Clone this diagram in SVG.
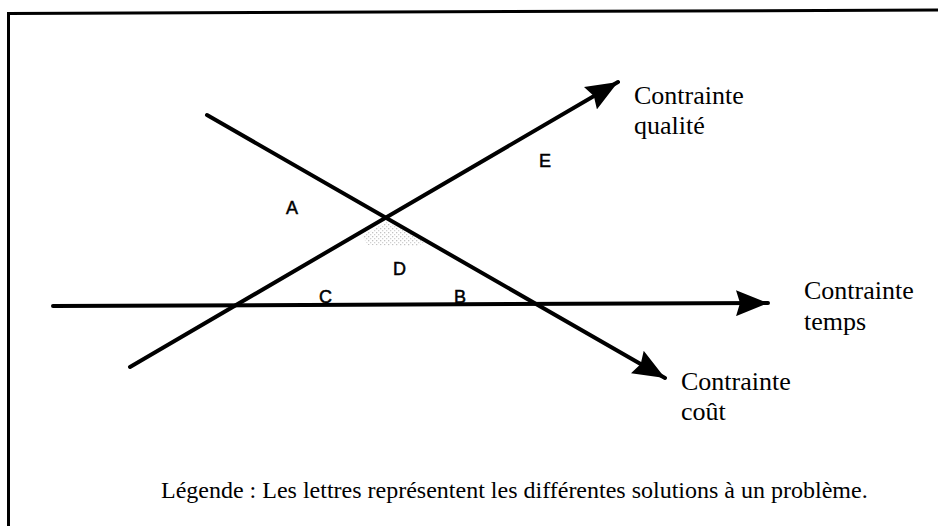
<svg xmlns="http://www.w3.org/2000/svg" width="938" height="526" viewBox="0 0 938 526">
  <style>
    .frame { fill: none; stroke: #000; stroke-width: 3; }
    .axis { fill: none; stroke: #000; stroke-width: 4; stroke-linecap: round; }
    .lbl { font-family: "Liberation Serif", "Times New Roman", serif; font-size: 26px; fill: #000; }
    .sol { font-family: "Liberation Sans", Arial, sans-serif; font-size: 18px; fill: #000; stroke: #000; stroke-width: 0.5; }
    .legend { font-family: "Liberation Serif", "Times New Roman", serif; font-size: 24px; fill: #000; }
  </style>
  <defs>
    <marker id="arrow" viewBox="0 0 32 26" refX="32" refY="13" markerWidth="32" markerHeight="26" markerUnits="userSpaceOnUse" orient="auto">
      <path d="M0,0 L32,13 L0,26 L4,13 Z" fill="#000"/>
    </marker>
    <pattern id="dots" width="4" height="4" patternUnits="userSpaceOnUse">
      <rect x="0" y="0" width="1.3" height="1.3" fill="#777"/>
      <rect x="2" y="2" width="1.3" height="1.3" fill="#999"/>
    </pattern>
  </defs>
  <rect width="938" height="526" fill="#fff"/>
  <path class="frame" d="M8.5,530 L8.5,13.5 L940,10"/>

  <g id="zone-D-shade">
    <path d="M362,236 L386,222 L428,240 L418,246 L368,245 Z" fill="url(#dots)" opacity="0.45"/>
  </g>

  <g id="connectors">
    <path id="axe-temps" class="axis" d="M53,306 L768,303" marker-end="url(#arrow)"/>
    <path id="axe-qualite" class="axis" d="M130,367 L618,82" marker-end="url(#arrow)"/>
    <path id="axe-cout" class="axis" d="M207,115 L665,378" marker-end="url(#arrow)"/>
  </g>

  <g id="label-qualite">
    <text class="lbl" x="634" y="104">Contrainte</text>
    <text class="lbl" x="634" y="134">qualité</text>
  </g>
  <g id="label-temps">
    <text class="lbl" x="804" y="299">Contrainte</text>
    <text class="lbl" x="804" y="330">temps</text>
  </g>
  <g id="label-cout">
    <text class="lbl" x="681" y="390">Contrainte</text>
    <text class="lbl" x="681" y="420">coût</text>
  </g>

  <g id="sol-A"><text class="sol" x="286" y="214">A</text></g>
  <g id="sol-B"><text class="sol" x="454" y="303">B</text></g>
  <g id="sol-C"><text class="sol" x="319" y="303">C</text></g>
  <g id="sol-D"><text class="sol" x="393" y="275">D</text></g>
  <g id="sol-E"><text class="sol" x="539" y="167">E</text></g>

  <g id="legende">
    <text class="legend" x="161" y="498">Légende : Les lettres représentent les différentes solutions à un problème.</text>
  </g>
</svg>
